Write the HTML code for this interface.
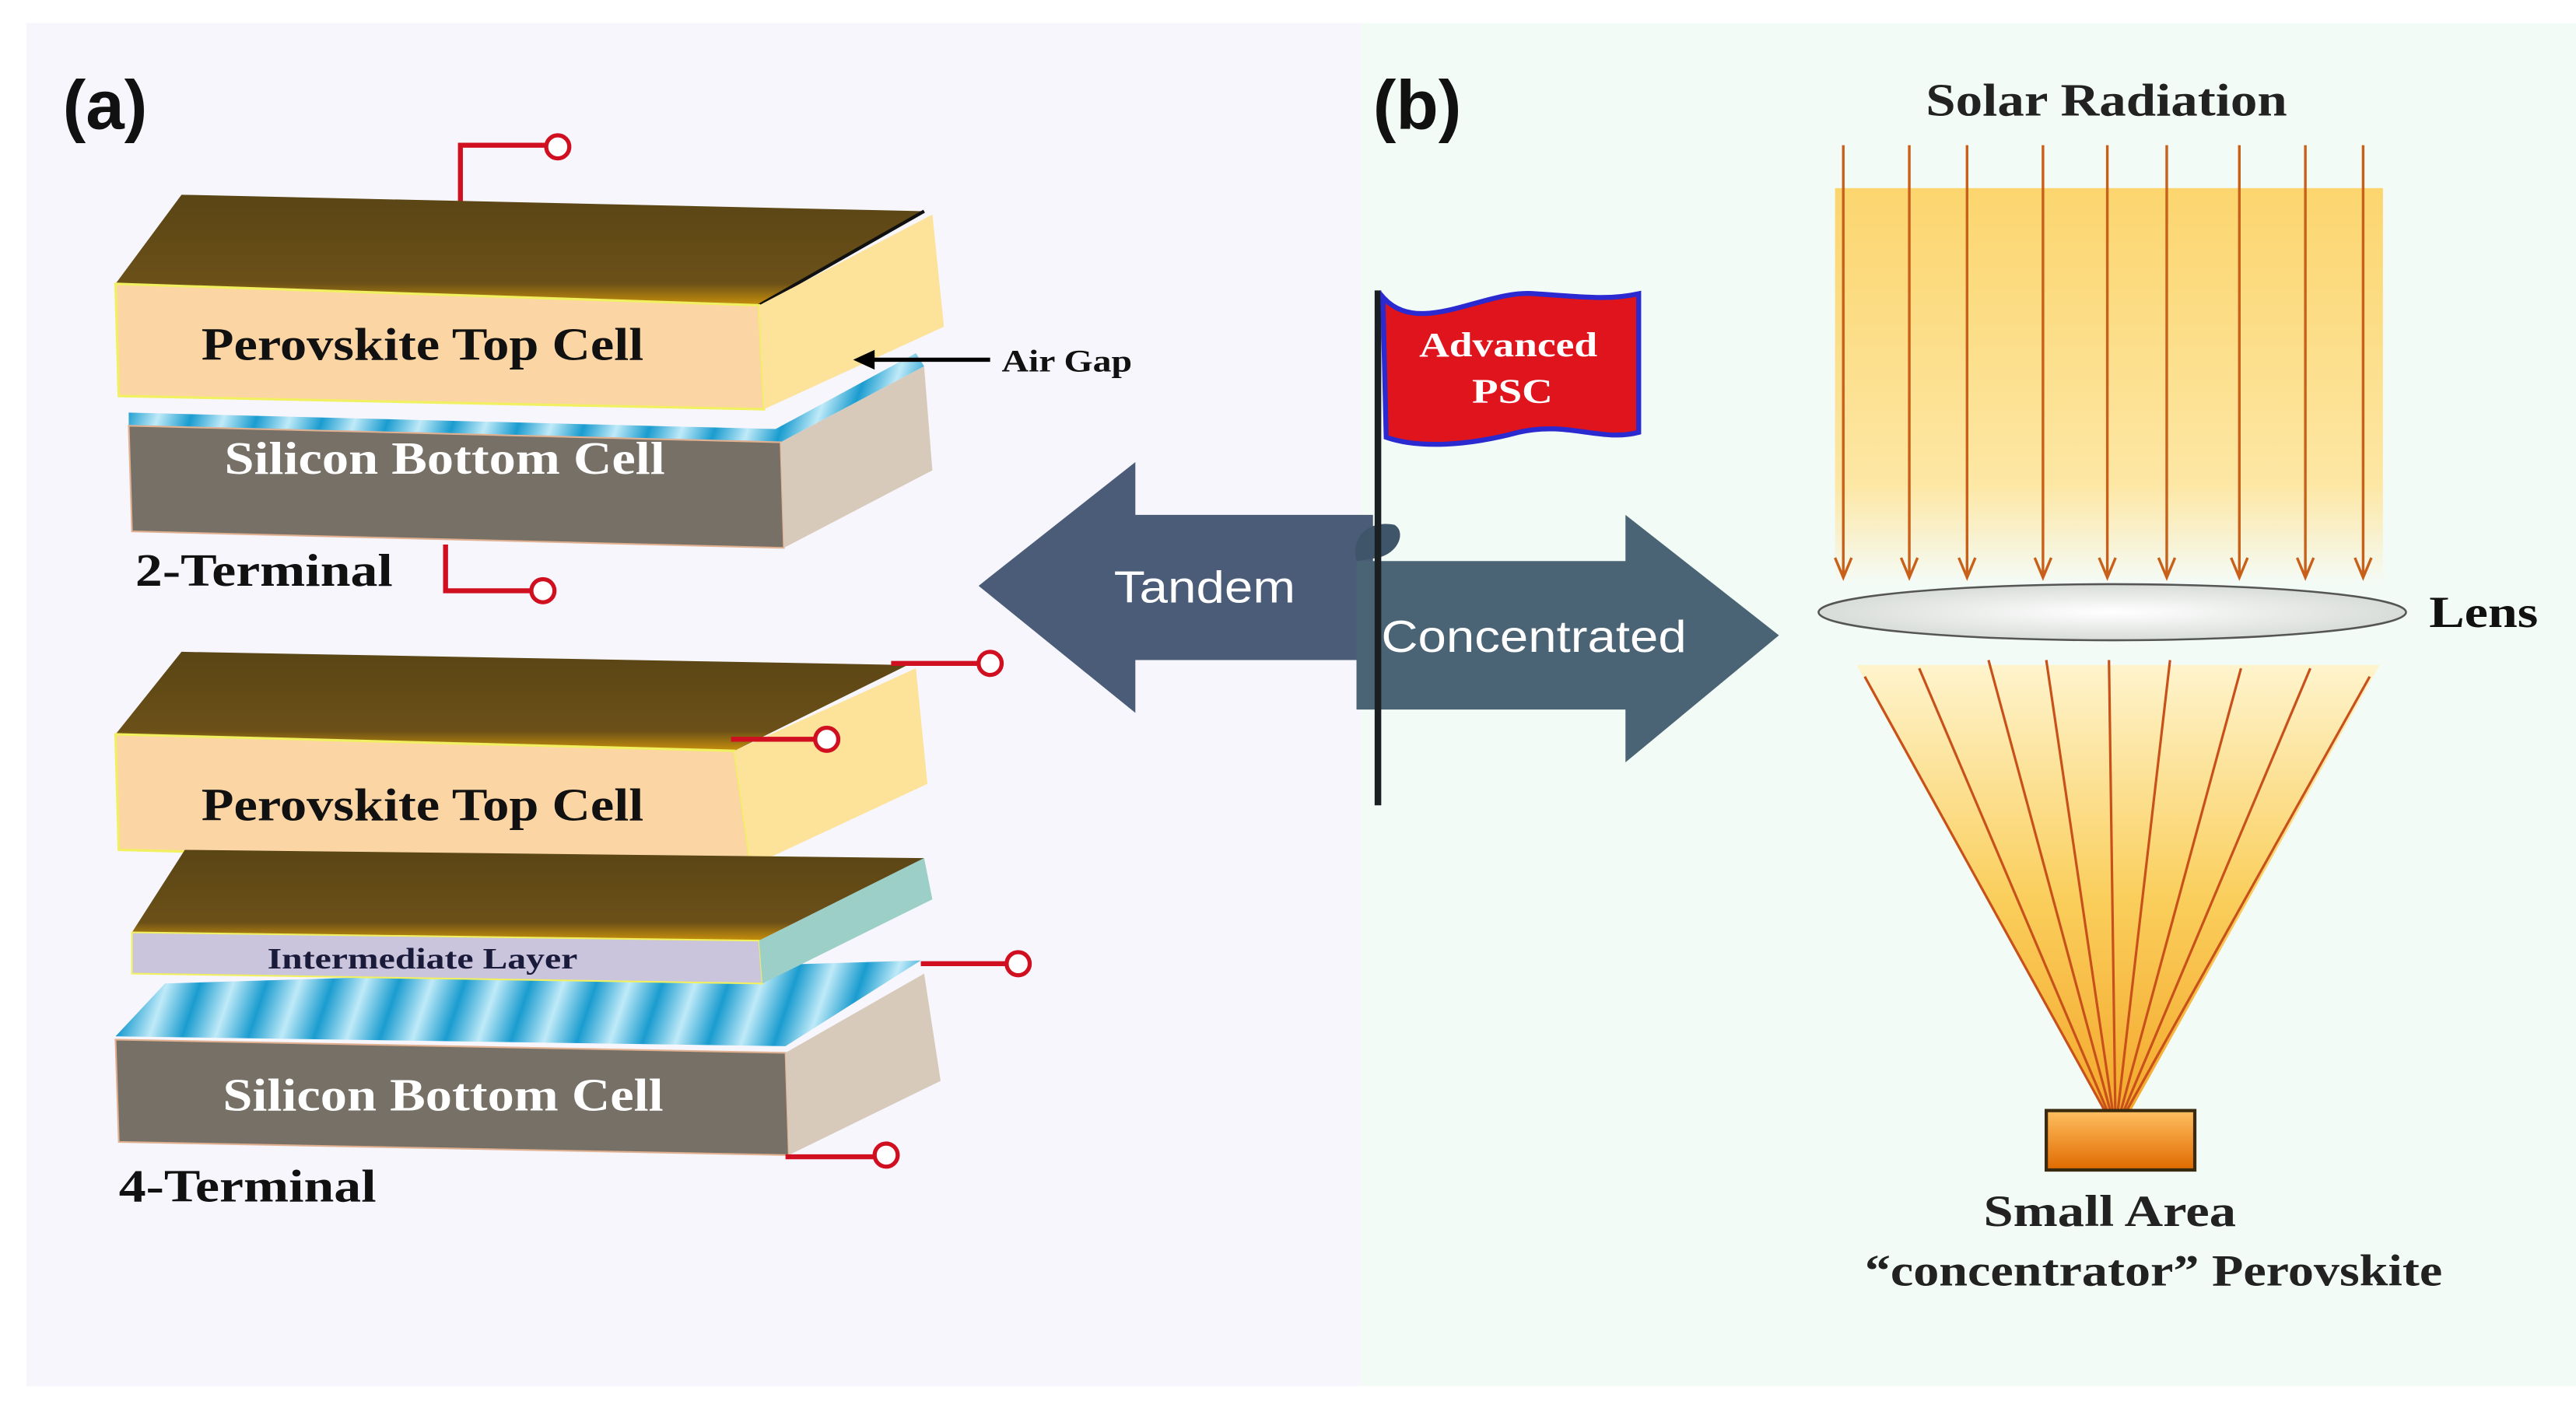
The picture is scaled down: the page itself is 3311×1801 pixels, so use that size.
<!DOCTYPE html>
<html><head><meta charset="utf-8"><style>
html,body{margin:0;padding:0;background:#fff;}
svg{display:block;}
.s{font-family:"Liberation Serif",serif;font-weight:bold;}
.a{font-family:"Liberation Sans",sans-serif;fill:#fff;}
</style></head><body>
<svg width="3311" height="1801" viewBox="0 0 1561 849" preserveAspectRatio="none" xmlns="http://www.w3.org/2000/svg">
<defs>
<linearGradient id="brown" x1="0" y1="0" x2="0" y2="1"><stop offset="0" stop-color="#5a4515"/><stop offset="0.8" stop-color="#6b5018"/><stop offset="1" stop-color="#c8900c"/></linearGradient>
<linearGradient id="blue" gradientUnits="userSpaceOnUse" x1="0" y1="0" x2="36" y2="12" spreadMethod="repeat"><stop offset="0" stop-color="#1a9ccf"/><stop offset="0.5" stop-color="#bfeaf8"/><stop offset="1" stop-color="#1a9ccf"/></linearGradient>
<linearGradient id="sun" x1="0" y1="0" x2="0" y2="1"><stop offset="0" stop-color="#fcd56e"/><stop offset="0.75" stop-color="#fde7a4"/><stop offset="1" stop-color="#f4fbf7"/></linearGradient>
<linearGradient id="cone" x1="0" y1="0" x2="0" y2="1"><stop offset="0" stop-color="#fff3c8"/><stop offset="0.5" stop-color="#fbc94a"/><stop offset="1" stop-color="#f39a10"/></linearGradient>
<linearGradient id="abs" x1="0" y1="0" x2="0" y2="1"><stop offset="0" stop-color="#ffbf60"/><stop offset="1" stop-color="#e06a00"/></linearGradient>
<radialGradient id="lens"><stop offset="0" stop-color="#ffffff"/><stop offset="1" stop-color="#d8dcd8"/></radialGradient>
</defs>
<rect x="16" y="14" width="810" height="826" fill="#f7f6fc"/>
<rect x="825" y="14" width="736" height="826" fill="#f3fbf6"/>

<!-- 2-terminal -->
<polyline points="279,128 279,88 330,88" fill="none" stroke="#d01020" stroke-width="3"/>
<circle cx="338" cy="89" r="7" fill="#fff" stroke="#d01020" stroke-width="2.5"/>
<polygon points="70,172 110,118 560,128 460,185" fill="url(#brown)"/>
<polyline points="460,185 560,128" stroke="#111" stroke-width="2" fill="none"/>
<polygon points="78,250 470,260 555,214 560,222 473,268 78,260" fill="url(#blue)"/>
<polygon points="78,258 473,268 475,332 80,322" fill="#767066" stroke="#e0b090"/>
<polygon points="473,268 560,222 565,285 475,332" fill="#d8cabb"/>
<polygon points="70,172 460,185 463,248 72,240" fill="#fcd5a5" stroke="#f0f060" stroke-width="1.5"/>
<polygon points="460,185 565,130 572,198 463,248" fill="#fde29a"/>
<text x="122" y="218" class="s" font-size="28" textLength="268" lengthAdjust="spacingAndGlyphs" fill="#111">Perovskite Top Cell</text>
<text x="136" y="287" class="s" font-size="28" textLength="267" lengthAdjust="spacingAndGlyphs" fill="#fff">Silicon Bottom Cell</text>
<line x1="600" y1="218" x2="525" y2="218" stroke="#000" stroke-width="2.5"/>
<polygon points="517,218 530,212 530,224" fill="#000"/>
<text x="607" y="225" class="s" font-size="19" textLength="79" lengthAdjust="spacingAndGlyphs" fill="#111">Air Gap</text>
<text x="82" y="355" class="s" font-size="28" textLength="156" lengthAdjust="spacingAndGlyphs" fill="#111">2-Terminal</text>
<polyline points="270,330 270,358 322,358" fill="none" stroke="#d01020" stroke-width="3"/>
<circle cx="329" cy="358" r="7" fill="#fff" stroke="#d01020" stroke-width="2.5"/>

<!-- 4-terminal -->
<polygon points="70,445 110,395 550,403 445,455" fill="url(#brown)"/>
<polygon points="70,445 445,455 455,525 72,515" fill="#fcd5a5" stroke="#f0f060" stroke-width="1.5"/>
<polygon points="445,455 555,405 562,475 455,525" fill="#fde29a"/>
<line x1="540" y1="402" x2="592" y2="402" stroke="#d01020" stroke-width="3"/>
<circle cx="600" cy="402" r="7" fill="#fff" stroke="#d01020" stroke-width="2.5"/>
<line x1="443" y1="448" x2="494" y2="448" stroke="#d01020" stroke-width="3"/>
<circle cx="501" cy="448" r="7" fill="#fff" stroke="#d01020" stroke-width="2.5"/>
<text x="122" y="497" class="s" font-size="28" textLength="268" lengthAdjust="spacingAndGlyphs" fill="#111">Perovskite Top Cell</text>
<polygon points="70,628 100,596 558,582 476,634" fill="url(#blue)"/>
<polygon points="70,630 476,638 478,700 72,692" fill="#767066" stroke="#e0b090"/>
<polygon points="476,638 560,590 570,655 478,700" fill="#d8cabb"/>
<polygon points="80,565 112,515 560,520 460,570" fill="url(#brown)"/>
<polygon points="80,565 460,570 462,596 80,590" fill="#cac4dc" stroke="#f0f060"/>
<polygon points="460,570 560,520 565,545 462,596" fill="#9ccfc8"/>
<text x="162" y="587" class="s" font-size="18" textLength="188" lengthAdjust="spacingAndGlyphs" fill="#1a1a3a">Intermediate Layer</text>
<line x1="558" y1="584" x2="610" y2="584" stroke="#d01020" stroke-width="3"/>
<circle cx="617" cy="584" r="7" fill="#fff" stroke="#d01020" stroke-width="2.5"/>
<text x="135" y="673" class="s" font-size="28" textLength="267" lengthAdjust="spacingAndGlyphs" fill="#fff">Silicon Bottom Cell</text>
<line x1="476" y1="701" x2="530" y2="701" stroke="#d01020" stroke-width="3"/>
<circle cx="537" cy="700" r="7" fill="#fff" stroke="#d01020" stroke-width="2.5"/>
<text x="72" y="728" class="s" font-size="28" textLength="156" lengthAdjust="spacingAndGlyphs" fill="#111">4-Terminal</text>

<text x="38" y="78" font-family="Liberation Sans,sans-serif" font-weight="bold" font-size="42" fill="#111">(a)</text>
<text x="832" y="78" font-family="Liberation Sans,sans-serif" font-weight="bold" font-size="42" fill="#111">(b)</text>

<!-- arrows -->
<polygon points="593,355 688,280 688,312 832,312 832,400 688,400 688,432" fill="#4b5c78"/>
<text x="675" y="365" class="a" font-size="27" textLength="110" lengthAdjust="spacingAndGlyphs">Tandem</text>
<polygon points="822,340 985,340 985,312 1078,385 985,462 985,430 822,430" fill="#4a6476"/>
<path d="M822,340 C818,325 830,315 845,318 C852,322 848,335 835,338 Z" fill="#3f566a"/>
<text x="837" y="395" class="a" font-size="27" textLength="185" lengthAdjust="spacingAndGlyphs">Concentrated</text>
<line x1="835" y1="176" x2="835" y2="488" stroke="#1a1f22" stroke-width="4"/>
<path d="M838,180 C860,205 900,175 930,178 C960,180 975,182 993,178 L993,262 C970,268 950,255 920,262 C890,270 860,272 840,265 Z" fill="#e0141c" stroke="#2a2ad0" stroke-width="3"/>
<text x="860" y="216" class="s" font-size="21" textLength="108" lengthAdjust="spacingAndGlyphs" fill="#fff">Advanced</text>
<text x="892" y="244" class="s" font-size="21" textLength="49" lengthAdjust="spacingAndGlyphs" fill="#fff">PSC</text>

<!-- solar -->
<text x="1167" y="70" class="s" font-size="28" textLength="219" lengthAdjust="spacingAndGlyphs" fill="#222">Solar Radiation</text>
<rect x="1112" y="114" width="332" height="240" fill="url(#sun)"/>
<g stroke="#c8601a" stroke-width="1.6" fill="none">
<line x1="1117" y1="88" x2="1117" y2="348"/><line x1="1157" y1="88" x2="1157" y2="348"/><line x1="1192" y1="88" x2="1192" y2="348"/><line x1="1238" y1="88" x2="1238" y2="348"/><line x1="1277" y1="88" x2="1277" y2="348"/><line x1="1313" y1="88" x2="1313" y2="348"/><line x1="1357" y1="88" x2="1357" y2="348"/><line x1="1397" y1="88" x2="1397" y2="348"/><line x1="1432" y1="88" x2="1432" y2="348"/>
<polyline points="1112,338 1117,350 1122,338"/><polyline points="1152,338 1157,350 1162,338"/><polyline points="1187,338 1192,350 1197,338"/><polyline points="1233,338 1238,350 1243,338"/><polyline points="1272,338 1277,350 1282,338"/><polyline points="1308,338 1313,350 1318,338"/><polyline points="1352,338 1357,350 1362,338"/><polyline points="1392,338 1397,350 1402,338"/><polyline points="1427,338 1432,350 1437,338"/>
</g>
<ellipse cx="1280" cy="371" rx="178" ry="17" fill="url(#lens)" stroke="#555" stroke-width="1.2"/>
<text x="1472" y="380" class="s" font-size="27" textLength="66" lengthAdjust="spacingAndGlyphs" fill="#111">Lens</text>
<polygon points="1125,403 1442,403 1283,688" fill="url(#cone)" opacity="0.9"/>
<g stroke="#c8501a" stroke-width="1.5">
<line x1="1130" y1="410" x2="1282" y2="685"/><line x1="1163" y1="405" x2="1282" y2="685"/><line x1="1205" y1="400" x2="1282" y2="685"/><line x1="1240" y1="400" x2="1282" y2="685"/><line x1="1278" y1="400" x2="1282" y2="685"/><line x1="1315" y1="400" x2="1282" y2="685"/><line x1="1358" y1="405" x2="1282" y2="685"/><line x1="1400" y1="405" x2="1282" y2="685"/><line x1="1436" y1="410" x2="1282" y2="685"/>
</g>
<rect x="1240" y="673" width="90" height="36" fill="url(#abs)" stroke="#3a2a10" stroke-width="2"/>
<text x="1202" y="743" class="s" font-size="27" textLength="153" lengthAdjust="spacingAndGlyphs" fill="#222">Small Area</text>
<text x="1130" y="779" class="s" font-size="27" textLength="350" lengthAdjust="spacingAndGlyphs" fill="#222">“concentrator” Perovskite</text>
</svg>
</body></html>
